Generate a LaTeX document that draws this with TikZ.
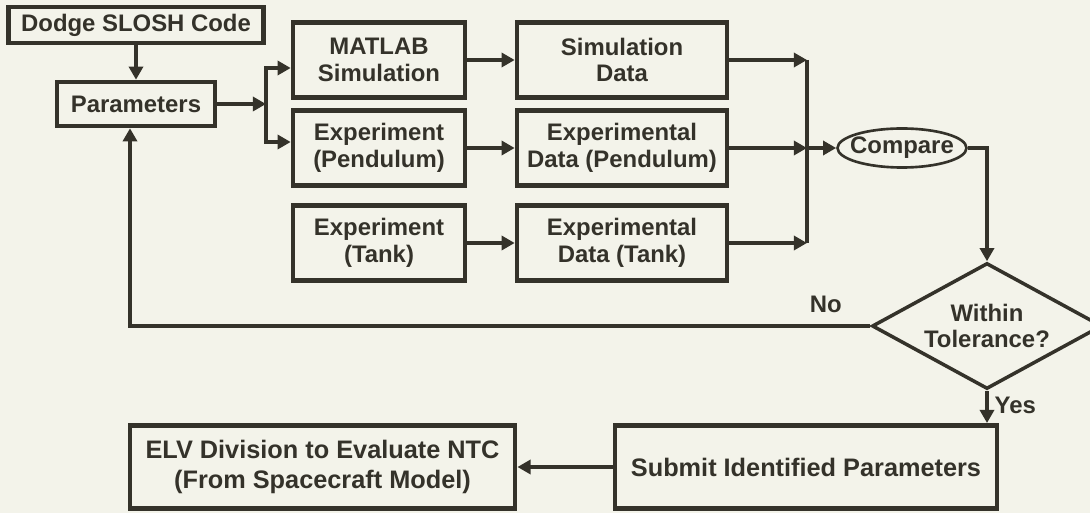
\documentclass[tikz,border=0pt]{standalone}
\usepackage{fontspec}
\setmainfont{Liberation Sans}
\usetikzlibrary{shapes.geometric, arrows.meta}
\definecolor{ink}{RGB}{52,50,42}
\definecolor{paper}{RGB}{243,243,234}
\tikzstyle{startstop} = [rectangle, minimum width=5.1cm, minimum height=0.72cm, text centered, draw=ink, line width=2.6pt, text=ink, font=\bfseries\fontsize{13.6}{15.2}\selectfont]
\tikzstyle{process} = [rectangle, minimum width=3.44cm, minimum height=1.5cm, text centered, align=center, draw=ink, line width=2.6pt, text=ink, font=\bfseries\fontsize{13.6}{15.2}\selectfont]
\tikzstyle{datablock} = [process, minimum width=4.2cm]
\tikzstyle{compareoval} = [ellipse, minimum width=2.58cm, minimum height=0.78cm, inner sep=0pt, draw=ink, line width=1.5pt, text=ink, font=\bfseries\fontsize{13.6}{15.2}\selectfont]
\tikzstyle{decision} = [diamond, shape aspect=1.84, minimum width=4.6cm, minimum height=2.52cm, inner sep=0pt, align=center, draw=ink, line width=2pt, text=ink, font=\bfseries\fontsize{13.6}{15.2}\selectfont]
\tikzstyle{finalbox} = [rectangle, minimum width=7.64cm, minimum height=1.66cm, align=center, draw=ink, line width=2.8pt, text=ink, font=\bfseries\fontsize{14.4}{17}\selectfont]
\tikzstyle{arrow} = [line width=2pt, draw=ink, -{Triangle[length=7.5pt,width=8pt]}]
\tikzstyle{line} = [line width=2pt, draw=ink]
\tikzstyle{answer} = [text=ink, font=\bfseries\fontsize{13.6}{15.2}\selectfont]

\begin{document}
\begin{tikzpicture}
\useasboundingbox (0,0) rectangle (21.8,-10.26);
\clip (0,0) rectangle (21.8,-10.26);
\fill[paper] (0,0) rectangle (21.8,-10.26);

\node (dodge) [startstop] at (2.72,-0.5) {Dodge SLOSH Code};
\node (params) [process, minimum width=3.16cm, minimum height=0.88cm] at (2.72,-2.08) {Parameters};
\node (matlab) [process] at (7.58,-1.2) {MATLAB\\Simulation};
\node (simdata) [datablock] at (12.44,-1.2) {Simulation\\Data};
\node (exppend) [process] at (7.58,-2.96) {Experiment\\(Pendulum)};
\node (datapend) [datablock] at (12.44,-2.96) {Experimental\\Data (Pendulum)};
\node (exptank) [process] at (7.58,-4.86) {Experiment\\(Tank)};
\node (datatank) [datablock] at (12.44,-4.86) {Experimental\\Data (Tank)};
\node (compare) [compareoval] at (18.04,-2.96) {\makebox[0pt]{Compare}};
\node (tol) [decision] at (19.74,-6.52) {Within\\Tolerance?};
\node (submit) [finalbox] at (16.12,-9.34) {Submit Identified Parameters};
\node (elv) [finalbox, minimum width=7.7cm] at (6.45,-9.34) {ELV Division to Evaluate NTC\\(From Spacecraft Model)};

\coordinate (split) at (5.32,-2.08);
\coordinate (join) at (16.14,-2.96);

\draw [arrow] (dodge) -- (params);
\draw [arrow] (params) -- (split);
\draw [line] ([yshift=-0.16cm]matlab.west -| split) -- ([yshift=0.12cm]exppend.west -| split);
\draw [arrow] (split) |- ([yshift=-0.16cm]matlab.west);
\draw [arrow] (split) |- ([yshift=0.12cm]exppend.west);
\draw [arrow] (matlab) -- (simdata);
\draw [arrow] (exppend) -- (datapend);
\draw [arrow] (exptank) -- (datatank);
\draw [line] (simdata.east -| join) -- (datatank.east -| join);
\draw [arrow] (simdata.east) -- (simdata.east -| join);
\draw [arrow] (datapend.east) -- (join);
\draw [arrow] (datatank.east) -- (datatank.east -| join);
\draw [arrow] (join) -- (compare);
\draw [arrow] (compare.east) -| (tol.north);
\draw [arrow] (tol.west) -| node[answer, pos=0.03, above=3pt] {No} ([xshift=-0.12cm]params.south);
\draw [arrow] (tol.south) -- node[answer, right, pos=0.45] {Yes} (tol.south |- submit.north);
\draw [arrow] (submit) -- (elv);
\end{tikzpicture}
\end{document}
